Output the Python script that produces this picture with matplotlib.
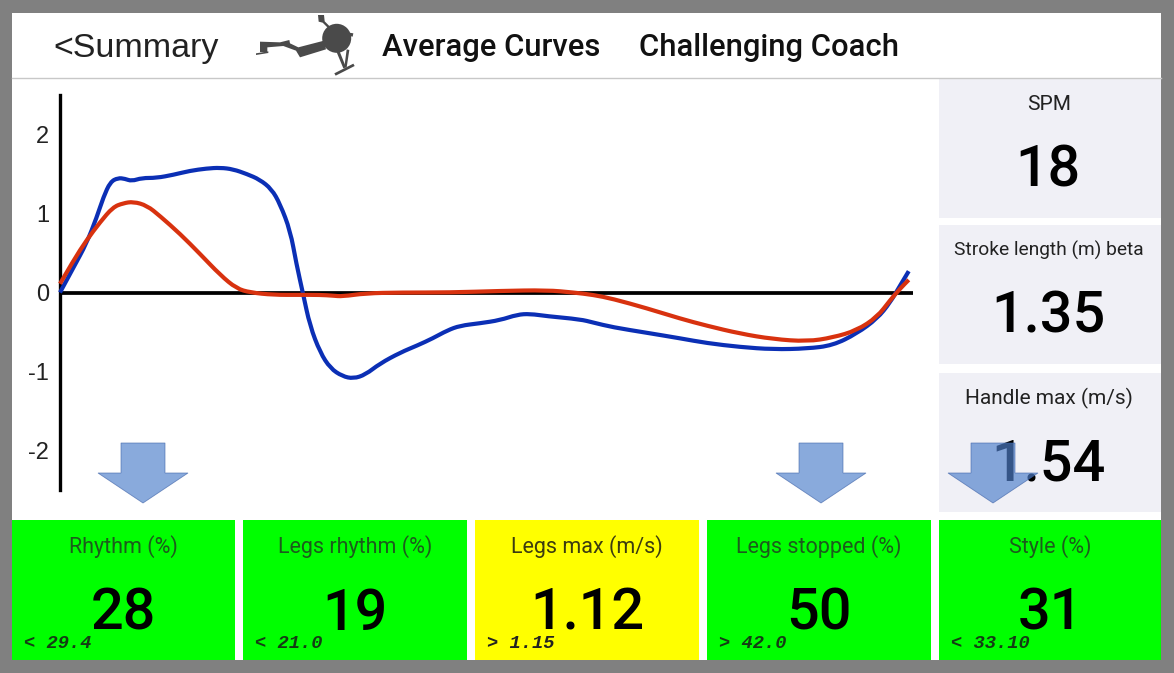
# -*- coding: utf-8 -*-
"""
Rowing dashboard: average force curves with metric cards.
"""

import matplotlib

matplotlib.use('Agg')
import matplotlib.pyplot as plt
from matplotlib.patches import Circle, PathPatch, Polygon, Rectangle
from matplotlib.path import Path

W, H = 1174, 673

# curves, x is percent of the stroke
blue_x = [0, 1.6, 3.1, 4.3, 5.1, 5.9, 6.8, 7.6, 8.4, 9.6, 11.3, 13.3, 15.2, 17.2, 18.8,
          20.3, 21.9, 23.4, 24.8, 25.8, 27, 27.7, 28.5, 29.3, 30.5, 31.7, 33.1, 34.4,
          35.8, 37.5, 39.9, 41.9, 43.7, 45.4, 46.9, 49.2, 51.6, 53.6, 55.1, 57.1, 61, 62.5,
          64.8, 68.8, 72.7, 75.8, 79.7, 83.6, 87.6, 90.6, 93.4, 95.8, 97.3, 98.5, 99.5]
blue_y = [0.0, 0.32, 0.62, 0.95, 1.21, 1.40, 1.45, 1.44, 1.41, 1.45, 1.45, 1.49, 1.54, 1.57, 1.58,
          1.56, 1.50, 1.43, 1.31, 1.12, 0.78, 0.37, -0.02, -0.42, -0.76, -0.96, -1.06, -1.09,
          -1.04, -0.90, -0.76, -0.67, -0.58, -0.48, -0.42, -0.39, -0.35, -0.28, -0.27, -0.30, -0.34, -0.38,
          -0.44, -0.51, -0.58, -0.64, -0.69, -0.72, -0.71, -0.67, -0.52, -0.33, -0.13, 0.09, 0.27]
red_x = [0, 1.6, 3.1, 4.7, 6.2, 7.4, 8.6, 10.2, 11.7, 14.1, 16.4, 18.8, 20.7, 22.3, 25, 28.1,
         30.5, 32, 33.1, 35.8, 39.9, 45.7, 51.6, 57.1, 60.2, 62.5, 64.8, 68.8, 72.7, 75.8,
         79.7, 83.6, 87.6, 90.6, 93.4, 95.8, 97.3, 98.5, 99.5]
red_y = [0.11, 0.41, 0.66, 0.89, 1.08, 1.13, 1.15, 1.10, 0.97, 0.74, 0.49, 0.22, 0.05, 0.0, -0.03, -0.03,
         -0.03, -0.04, -0.05, -0.01, 0.0, 0.0, 0.02, 0.03, 0.0, -0.03, -0.08, -0.20, -0.33, -0.42,
         -0.52, -0.59, -0.62, -0.57, -0.48, -0.31, -0.10, 0.05, 0.16]
y_ticks = [-2, -1, 0, 1, 2]

# cards
side_labels = ['SPM', 'Stroke length (m) beta', 'Handle max (m/s)']
side_values = ['18', '1.35', '1.54']
bottom_labels = ['Rhythm (%)', 'Legs rhythm (%)', 'Legs max (m/s)', 'Legs stopped (%)', 'Style (%)']
bottom_values = ['28', '19', '1.12', '50', '31']
bottom_limits = ['< 29.4', '< 21.0', '> 1.15', '> 42.0', '< 33.10']
bottom_colors = ['#00ff00', '#00ff00', '#ffff00', '#00ff00', '#00ff00']

HEAD_FONT = 'Liberation Sans'
LABEL_FONT = 'Roboto'


def smooth_path(x, y):
    # quadratic segments through the midpoints, so the curve has no corners
    verts = [(x[0], y[0])]
    codes = [Path.MOVETO]
    for i in range(1, len(x) - 1):
        verts.append((x[i], y[i]))
        verts.append(((x[i] + x[i + 1]) / 2, (y[i] + y[i + 1]) / 2))
        codes += [Path.CURVE3, Path.CURVE3]
    verts.append((x[-1], y[-1]))
    codes.append(Path.LINETO)
    return Path(verts, codes)


def draw_icon(ax):
    # rowing machine silhouette, outline traced on a 3x crop at (250, 10)
    grey = '#4a4a4a'

    def px(points):
        return [(250 + zx / 3, 10 + zy / 3) for zx, zy in points]

    rail = [(30, 95), (90, 97), (118, 90), (120, 100), (145, 112), (222, 92), (228, 118),
            (150, 142), (138, 122), (100, 108), (52, 112), (52, 126), (30, 126)]
    ax.add_patch(Polygon(px(rail), closed=True, color=grey, lw=0))
    ax.add_patch(Polygon(px([(18, 130), (55, 124), (55, 129), (18, 135)]), closed=True, color=grey, lw=0))
    ax.add_patch(Circle((336.7, 38.3), 14.5, color=grey, lw=0))
    ax.add_patch(Polygon(px([(204, 15), (222, 15), (224, 34), (245, 55), (240, 60), (218, 38), (206, 35)]),
                         closed=True, color=grey, lw=0))
    ax.add_patch(Polygon(px([(298, 68), (310, 70), (308, 80), (298, 78)]), closed=True, color=grey, lw=0))
    ax.add_patch(Polygon(px([(258, 122), (268, 122), (288, 172), (280, 175)]), closed=True, color=grey, lw=0))
    ax.add_patch(Polygon(px([(290, 118), (298, 120), (290, 172), (283, 172)]), closed=True, color=grey, lw=0))
    ax.add_patch(Polygon(px([(253, 190), (310, 161), (314, 168), (257, 197)]), closed=True, color=grey, lw=0))


def draw_arrow(ax, cx):
    pts = [(cx - 22, 443), (cx + 22, 443), (cx + 22, 473), (cx + 45, 473),
           (cx, 503), (cx - 45, 473), (cx - 22, 473)]
    ax.add_patch(Polygon(pts, closed=True, facecolor='#5080cc', edgecolor='#3f64a8',
                         lw=0.6, alpha=0.67))


fig = plt.figure(figsize=(W / 100, H / 100), dpi=100, facecolor='#808080')

# background layer in pixel coordinates
bg = fig.add_axes([0, 0, 1, 1], zorder=1)
bg.set_xlim(0, W)
bg.set_ylim(H, 0)
bg.axis('off')
bg.add_patch(Rectangle((12, 13), 1149, 647, color='white', lw=0))
bg.plot([12, 1161], [78, 78], color='#c8c8c8', lw=1)

bg.text(53, 48, '<Summary', fontsize=24.5, family=HEAD_FONT, color='#222222', va='center')
bg.text(382, 48, 'Average Curves', fontsize=22.3, family=LABEL_FONT, weight='medium', color='#111111', va='center')
bg.text(639, 48, 'Challenging Coach', fontsize=22.3, family=LABEL_FONT, weight='medium', color='#111111', va='center')
draw_icon(bg)

side_tops = [79, 225, 373]
side_label_sizes = [15, 13.8, 15]
for top, label, value, size in zip(side_tops, side_labels, side_values, side_label_sizes):
    bg.add_patch(Rectangle((939, top), 222, 138.5, color='#f0f0f6', lw=0))
    bg.text(1049, top + 25, label, fontsize=size, family=LABEL_FONT, color='#222222', ha='center', va='center')
    bg.text(1048, top + 92, value, fontsize=41.5, family=LABEL_FONT, weight='medium', color='black',
            ha='center', va='center')

card_lefts = [12, 243, 475, 707, 939]
card_widths = [223, 224, 224, 224, 222]
for left, width, label, value, limit, color in zip(
    card_lefts, card_widths, bottom_labels, bottom_values, bottom_limits, bottom_colors
):
    mid = left + width / 2
    bg.add_patch(Rectangle((left, 520), width, 140, color=color, lw=0))
    bg.text(mid, 547, label, fontsize=15.5, family=LABEL_FONT, color='#1c5c1c' if color == '#00ff00' else '#3c3c10',
            ha='center', va='center')
    bg.text(mid, 614, value, fontsize=41.5, family=LABEL_FONT, weight='medium', color='black', ha='center', va='center')
    bg.text(left + 12, 643.5, limit, fontsize=13.5, family='Liberation Mono', weight='bold', style='italic',
            color='#143c14' if color == '#00ff00' else '#222222', va='center')

# chart
ax = fig.add_axes([60 / W, 1 - 490 / H, 853 / W, 395 / H], zorder=2)
ax.patch.set_visible(False)
ax.set_xlim(0, 100)
ax.set_ylim(-2.5, 2.5)
for side in ['top', 'right', 'bottom']:
    ax.spines[side].set_visible(False)
ax.spines['left'].set_linewidth(2.4)
ax.set_xticks([])
ax.set_yticks(y_ticks)
ax.set_yticklabels([str(t) for t in y_ticks], fontsize=17, family=HEAD_FONT, color='#222222')
ax.tick_params(axis='y', length=0, pad=8)
ax.axhline(0, color='black', lw=2.7, zorder=2)
ax.add_patch(PathPatch(smooth_path(blue_x, blue_y), fill=False, edgecolor='#0b2fb5', lw=3, zorder=3, clip_on=False))
ax.add_patch(PathPatch(smooth_path(red_x, red_y), fill=False, edgecolor='#d8320f', lw=3, zorder=4, clip_on=False))

# arrows on top of everything
top_ax = fig.add_axes([0, 0, 1, 1], zorder=3)
top_ax.set_xlim(0, W)
top_ax.set_ylim(H, 0)
top_ax.axis('off')
for cx in [143, 821, 993]:
    draw_arrow(top_ax, cx)

fig.savefig('out.png', dpi=100, facecolor=fig.get_facecolor())
